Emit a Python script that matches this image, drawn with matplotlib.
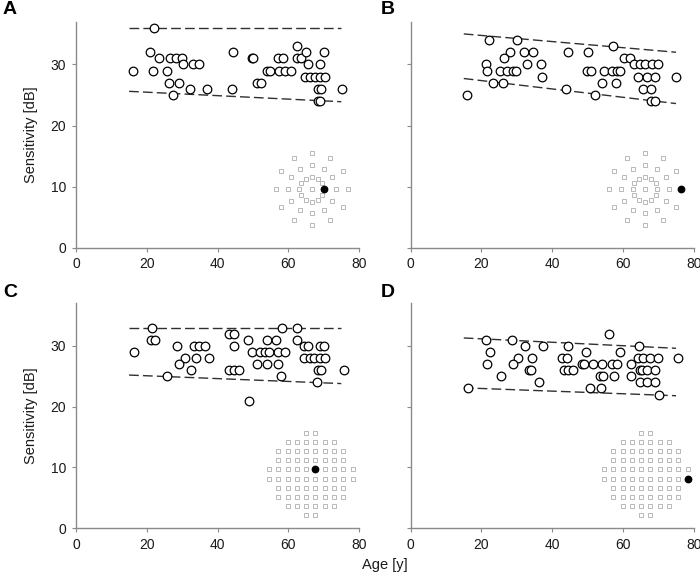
import numpy as np
import matplotlib
matplotlib.use("Agg")
import matplotlib.pyplot as plt

plt.rcParams['font.family'] = ['Liberation Sans', 'DejaVu Sans']

# ---------------- data ----------------
ageA = [22, 21, 23.5, 26.6, 28.2, 29.9, 16.2, 21.7, 25.6, 30.3, 33.2, 34.8, 26.4, 29.1,
        27.5, 32.2, 36.9, 44.5, 44, 49.7, 50.1, 51.3, 52.2, 53.9, 54.8, 57.2, 58.4,
        57.5, 59.1, 60.8, 62.4, 62.4, 63.5, 65, 70.2, 65.7, 69, 64.7, 66.1, 67.6, 69,
        70.4, 68.3, 69.3, 68.3, 69, 75.3]
sensA = [36, 32, 31, 31, 31, 31, 29, 29, 29, 30, 30, 30, 27, 27,
         25, 26, 26, 32, 26, 31, 31, 27, 27, 29, 29, 31, 31,
         29, 29, 29, 33, 31, 31, 32, 32, 30, 30, 28, 28, 28, 28,
         28, 26, 26, 24, 24, 26]

ageB = [15.8, 22.2, 30, 21.2, 21.5, 28.1, 26.5, 25.2, 27.3, 28.8, 29.7, 23.4, 26,
        32.1, 34.5, 33, 36.9, 37.1, 44.4, 43.8, 50.2, 49.7, 50.9, 54, 52.1, 54.6,
        56.8, 58.2, 59.2, 57.9, 57.3, 60.4, 62, 63.2, 64.8, 66.2, 68.1, 70, 64.3,
        66.7, 69, 65.6, 67.9, 67.9, 69, 75]
sensB = [25, 34, 34, 30, 29, 32, 31, 29, 29, 29, 29, 27, 27,
         32, 32, 30, 30, 28, 32, 26, 32, 29, 29, 27, 25, 29,
         29, 29, 29, 27, 33, 31, 31, 30, 30, 30, 30, 30, 28,
         28, 28, 26, 26, 24, 24, 28]

ageC = [21.4, 21.2, 22.3, 16.4, 28.6, 33.4, 34.8, 36.5, 30.8, 33.9, 37.7, 29.2, 32.4,
        25.6, 43.3, 44.7, 44.7, 43.3, 44.7, 46.1, 48.7, 49, 49.8, 52, 53.4, 54.6,
        51.1, 53.9, 54.1, 56.4, 57.2, 59.1, 57, 57.9, 58.3, 62.4, 62.4, 64.5, 65.7,
        69, 70.2, 64.5, 66.1, 67.4, 69, 70.4, 68.3, 69.3, 68, 75.8]
sensC = [33, 31, 31, 29, 30, 30, 30, 30, 28, 28, 28, 27, 26,
         25, 32, 32, 30, 26, 26, 26, 31, 21, 29, 29, 29, 29,
         27, 27, 31, 31, 29, 29, 27, 25, 33, 33, 31, 30, 30,
         30, 30, 28, 28, 28, 28, 28, 26, 26, 24, 26]

ageD = [16.3, 21.2, 22.3, 21.6, 25.4, 28.6, 30.4, 29, 32.2, 34.4, 33.5, 34, 36.3,
        37.5, 44.4, 42.7, 44.1, 43.2, 44.6, 45.8, 49.6, 48.5, 49, 51.6, 54, 53.5,
        54.3, 50.7, 53.8, 56.1, 56.8, 58.4, 57.5, 59.2, 62.3, 62.3, 64.6, 64.3,
        65.7, 67.6, 69.8, 64.8, 65.3, 66.7, 69, 64.8, 66.7, 69, 75.7, 70.2]
sensD = [23, 31, 29, 27, 25, 31, 28, 27, 30, 28, 26, 26, 24,
         30, 30, 28, 28, 26, 26, 26, 29, 27, 27, 27, 27, 25,
         25, 23, 23, 32, 27, 27, 25, 29, 27, 25, 30, 28,
         28, 28, 28, 26, 26, 26, 26, 24, 24, 24, 28, 22]

# regression bound lines (endpoints)
lineX = [15, 75]
upperA = [36.0, 36.0]
lowerA = [25.6, 23.9]
upperB = [35.0, 32.0]
lowerB = [27.7, 23.6]
upperC = [33.0, 33.0]
lowerC = [25.2, 23.8]
upperD = [31.3, 29.6]
lowerD = [23.1, 21.8]

xticks = [0, 20, 40, 60, 80]
yticks = [0, 10, 20, 30]

# inset patterns (in pixel-like units of the inset)
ring_radii = [12.3, 24, 36]
ring_angles_deg = [0, 30, 60, 90, 120, 150, 180, 210, 240, 270, 300, 330]
grid_rows = [2, 6, 8, 8, 10, 10, 8, 8, 6, 2]   # top to bottom
grid_dx, grid_dy = 9.3, 9.1

panels = [
    dict(label='A', age=ageA, sens=sensA, up=upperA, lo=lowerA,
         pos=[76, 21.7, 283, 226], inset='radial', dot=('ring', 0, 0),
         icen=(311.7, 189.3)),
    dict(label='B', age=ageB, sens=sensB, up=upperB, lo=lowerB,
         pos=[410.7, 21.7, 283, 226], inset='radial', dot=('ring', 2, 0),
         icen=(645.0, 189.3)),
    dict(label='C', age=ageC, sens=sensC, up=upperC, lo=lowerC,
         pos=[76, 303.3, 283, 225], inset='grid', dot=('grid', 4, 5),
         icen=(310.8, 474.0)),
    dict(label='D', age=ageD, sens=sensD, up=upperD, lo=lowerD,
         pos=[410.7, 303.3, 283, 225], inset='grid', dot=('grid', 5, 9),
         icen=(645.8, 474.0)),
]

W, H = 700, 576
fig = plt.figure(figsize=(7.0, 5.76), dpi=100)

spine_col = '#8a8a8a'
txt_col = '#1a1a1a'
sq_col = '#b8b8b8'

for i, p in enumerate(panels):
    l, t, w, h = p['pos']
    ax = fig.add_axes([l / W, 1 - (t + h) / H, w / W, h / H])
    ax.set_xlim(0, 80)
    ax.set_ylim(0, 37)
    for s in ['top', 'right']:
        ax.spines[s].set_visible(False)
    for s in ['left', 'bottom']:
        ax.spines[s].set_color(spine_col)
        ax.spines[s].set_linewidth(1.0)
    ax.set_xticks(xticks)
    ax.set_yticks(yticks)
    ax.tick_params(axis='both', direction='out', length=3, width=0.8,
                   color=spine_col, labelsize=10, labelcolor=txt_col, pad=4)
    if i % 2 == 0:
        ax.set_ylabel('Sensitivity [dB]', fontsize=10.5, color=txt_col, labelpad=9)
    else:
        ax.set_yticklabels([])

    ax.plot(lineX, p['up'], color='#303030', lw=1.0, ls=(0, (7, 3)), zorder=2)
    ax.plot(lineX, p['lo'], color='#303030', lw=1.0, ls=(0, (7, 3)), zorder=2)
    ax.plot(p['age'], p['sens'], 'o', ms=6.2, mfc='white', mec='black',
            mew=0.9, zorder=3, ls='none')

    # inset pattern
    cx, cy = p['icen']
    half = 48
    ix0 = (cx - half - l) / w
    iy0 = ((t + h) - (cy + half)) / h
    iax = ax.inset_axes([ix0, iy0, 2 * half / w, 2 * half / h])
    iax.set_xlim(-half, half)
    iax.set_ylim(-half, half)
    iax.axis('off')
    iax.patch.set_visible(False)
    xs, ys = [], []
    if p['inset'] == 'radial':
        xs.append(0.0); ys.append(0.0)
        for r in ring_radii:
            for a in ring_angles_deg:
                xs.append(r * np.cos(np.radians(a)))
                ys.append(r * np.sin(np.radians(a)))
        _, ri, ai = p['dot']
        dx = ring_radii[ri] * np.cos(np.radians(ring_angles_deg[ai]))
        dy = ring_radii[ri] * np.sin(np.radians(ring_angles_deg[ai]))
    else:
        nrows = len(grid_rows)
        for r, n in enumerate(grid_rows):
            yv = ((nrows - 1) / 2 - r) * grid_dy
            for c in range(n):
                xv = (c - (n - 1) / 2) * grid_dx
                xs.append(xv); ys.append(yv)
        _, rr, cc = p['dot']
        dy = ((nrows - 1) / 2 - rr) * grid_dy
        dx = (cc - 4.5) * grid_dx
    keep = [(x, y) for x, y in zip(xs, ys) if abs(x - dx) > 1 or abs(y - dy) > 1]
    iax.plot([k[0] for k in keep], [k[1] for k in keep], 's', ms=3.5,
             mfc='white', mec=sq_col, mew=0.7, ls='none', clip_on=False)
    iax.plot([dx], [dy], 'o', ms=4.6, color='black', clip_on=False)

    # panel letter
    lx = 3 if i % 2 == 0 else 381
    ly = 1 if i < 2 else 284
    fig.text(lx / W, 1 - ly / H, p['label'], fontsize=14, fontweight='bold',
             va='top', ha='left', color='black')

fig.text(385 / W, 1 - 565 / H, 'Age [y]', fontsize=10.5, ha='center',
         va='center', color=txt_col)

fig.savefig('out.png', dpi=100)
